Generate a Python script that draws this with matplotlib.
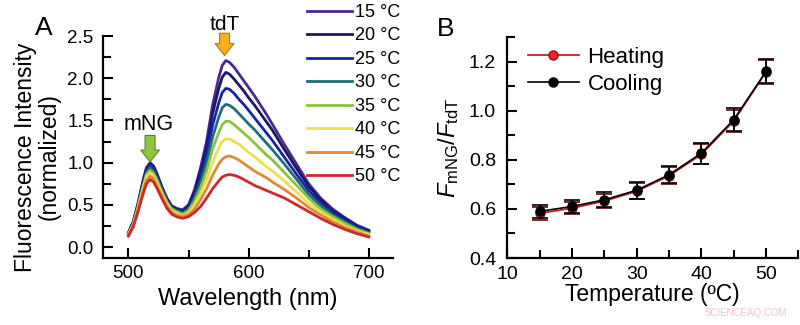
"""Temperature response of the mNG/tdT ratiometric sensor.

Panel A: normalized emission spectra recorded from 15 to 50 degC.
Panel B: mNG/tdT intensity ratio versus temperature for heating and cooling runs.
"""

import matplotlib

matplotlib.use("Agg")

import matplotlib.pyplot as plt  # noqa: E402
from matplotlib.ticker import MultipleLocator  # noqa: E402

plt.rcParams["font.family"] = ["Liberation Sans", "DejaVu Sans"]
plt.rcParams["mathtext.fontset"] = "custom"
plt.rcParams["mathtext.rm"] = "Liberation Sans"
plt.rcParams["mathtext.it"] = "Liberation Sans:italic"

OUT_PNG = "out.png"

# ---- panel A: emission spectra -------------------------------------------
wavelength_nm = [500, 504, 508, 512, 515, 518, 521, 524, 528, 532, 536, 540,
                 545, 550, 555, 560, 565, 570, 575, 578, 581, 584, 588, 592,
                 596, 600, 605, 610, 615, 620, 630, 640, 650, 660, 670, 680,
                 690, 700]

spec_15 = [0.17, 0.30, 0.52, 0.78, 0.94, 1.00, 0.96, 0.86, 0.71, 0.58, 0.49, 0.46,
           0.44, 0.50, 0.68, 0.94, 1.25, 1.68, 2.00, 2.15, 2.21, 2.19, 2.13, 2.05,
           1.97, 1.89, 1.79, 1.68, 1.57, 1.45, 1.21, 0.98, 0.75, 0.58, 0.45, 0.35,
           0.26, 0.20]
spec_20 = [0.17, 0.30, 0.51, 0.77, 0.93, 0.99, 0.95, 0.85, 0.70, 0.57, 0.48, 0.45,
           0.43, 0.49, 0.65, 0.89, 1.18, 1.58, 1.87, 2.01, 2.07, 2.05, 1.99, 1.92,
           1.85, 1.77, 1.68, 1.58, 1.48, 1.38, 1.15, 0.93, 0.72, 0.56, 0.43, 0.34,
           0.25, 0.19]
spec_25 = [0.16, 0.29, 0.50, 0.75, 0.91, 0.97, 0.93, 0.83, 0.69, 0.56, 0.47, 0.44,
           0.42, 0.47, 0.61, 0.83, 1.09, 1.44, 1.70, 1.83, 1.88, 1.87, 1.82, 1.75,
           1.69, 1.62, 1.53, 1.44, 1.35, 1.26, 1.06, 0.86, 0.67, 0.52, 0.41, 0.32,
           0.24, 0.18]
spec_30 = [0.16, 0.28, 0.49, 0.73, 0.88, 0.94, 0.90, 0.81, 0.67, 0.55, 0.46, 0.43,
           0.40, 0.45, 0.58, 0.76, 0.99, 1.30, 1.53, 1.65, 1.69, 1.68, 1.64, 1.58,
           1.52, 1.46, 1.39, 1.31, 1.23, 1.15, 0.98, 0.80, 0.62, 0.49, 0.38, 0.30,
           0.22, 0.17]
spec_35 = [0.15, 0.27, 0.47, 0.71, 0.86, 0.91, 0.87, 0.78, 0.65, 0.53, 0.45, 0.42,
           0.39, 0.43, 0.54, 0.70, 0.90, 1.16, 1.35, 1.45, 1.49, 1.49, 1.45, 1.40,
           1.35, 1.30, 1.23, 1.16, 1.09, 1.03, 0.88, 0.73, 0.58, 0.45, 0.36, 0.28,
           0.21, 0.16]
spec_40 = [0.15, 0.26, 0.46, 0.69, 0.83, 0.88, 0.84, 0.76, 0.62, 0.51, 0.43, 0.40,
           0.37, 0.40, 0.50, 0.63, 0.79, 1.00, 1.17, 1.25, 1.28, 1.28, 1.25, 1.22,
           1.17, 1.12, 1.07, 1.01, 0.95, 0.90, 0.78, 0.65, 0.52, 0.42, 0.33, 0.25,
           0.19, 0.15]
spec_45 = [0.14, 0.25, 0.44, 0.66, 0.79, 0.84, 0.81, 0.72, 0.60, 0.49, 0.41, 0.38,
           0.36, 0.38, 0.45, 0.56, 0.69, 0.85, 0.98, 1.04, 1.07, 1.08, 1.06, 1.03,
           0.99, 0.95, 0.90, 0.86, 0.82, 0.77, 0.68, 0.58, 0.47, 0.38, 0.30, 0.23,
           0.18, 0.13]
spec_50 = [0.13, 0.24, 0.42, 0.62, 0.75, 0.80, 0.77, 0.69, 0.57, 0.46, 0.39, 0.36,
           0.34, 0.36, 0.41, 0.48, 0.58, 0.69, 0.78, 0.83, 0.85, 0.86, 0.85, 0.83,
           0.80, 0.77, 0.73, 0.70, 0.67, 0.64, 0.58, 0.50, 0.42, 0.34, 0.27, 0.21,
           0.16, 0.12]

spectra = [spec_15, spec_20, spec_25, spec_30, spec_35, spec_40, spec_45, spec_50]
spectrum_labels = ["15 °C", "20 °C", "25 °C", "30 °C", "35 °C", "40 °C", "45 °C", "50 °C"]
spectrum_colors = ["#4a2a8c", "#1c1766", "#1a22a8", "#1f6e7c",
                   "#88c53c", "#ece04c", "#e2873a", "#cc2a2a"]

MNG_PEAK_NM, MNG_PEAK_VAL = 518, 1.01
TDT_PEAK_NM, TDT_PEAK_VAL = 580, 2.27

# ---- panel B: ratio vs temperature ---------------------------------------
temperature_c = [15, 20, 25, 30, 35, 40, 45, 50]
ratio_heating = [0.582, 0.603, 0.632, 0.672, 0.735, 0.822, 0.958, 1.158]
err_heating = [0.026, 0.025, 0.030, 0.033, 0.034, 0.041, 0.046, 0.048]
ratio_cooling = [0.590, 0.610, 0.637, 0.676, 0.739, 0.827, 0.963, 1.160]
err_cooling = [0.027, 0.025, 0.030, 0.034, 0.035, 0.042, 0.047, 0.049]


def style_axes(ax, tick_size):
    for side in ("top", "right"):
        ax.spines[side].set_visible(False)
    for side in ("left", "bottom"):
        ax.spines[side].set_linewidth(1.6)
    ax.tick_params(which="both", direction="in", width=1.5, labelsize=tick_size)
    ax.tick_params(which="major", length=7)
    ax.tick_params(which="minor", length=5.5)


def block_arrow(ax, x, y, face, edge, length_pt):
    ax.annotate(
        "", xy=(x, y), xycoords="data",
        xytext=(0, length_pt), textcoords="offset points",
        arrowprops=dict(
            arrowstyle="simple,head_length=0.85,head_width=1.35,tail_width=0.72",
            mutation_scale=10, fc=face, ec=edge, lw=0.8, shrinkA=0, shrinkB=0,
        ),
        annotation_clip=False,
    )


fig = plt.figure(figsize=(8, 3.25), dpi=100)
ax_a = fig.add_axes([0.129, 0.206, 0.362, 0.683])
ax_b = fig.add_axes([0.634, 0.206, 0.364, 0.680])

# panel A
for vals, lab, col in zip(spectra, spectrum_labels, spectrum_colors):
    ax_a.plot(wavelength_nm, vals, color=col, lw=2.0, label=lab)

ax_a.set_xlim(479, 720)
ax_a.set_ylim(-0.13, 2.5)
ax_a.xaxis.set_major_locator(MultipleLocator(100))
ax_a.xaxis.set_minor_locator(MultipleLocator(50))
ax_a.yaxis.set_major_locator(MultipleLocator(0.5))
ax_a.yaxis.set_minor_locator(MultipleLocator(0.25))
ax_a.yaxis.set_major_formatter(lambda v, p: f"{v:.1f}")
style_axes(ax_a, 13.5)
ax_a.tick_params(axis="x", pad=5)
ax_a.tick_params(axis="y", pad=7)
ax_a.set_xlabel("Wavelength (nm)", fontsize=17, labelpad=4)
ax_a.set_ylabel("Fluorescence Intensity\n(normalized)", fontsize=16.5, linespacing=1.0)
ax_a.yaxis.set_label_coords(-0.148, 0.455)

block_arrow(ax_a, MNG_PEAK_NM, MNG_PEAK_VAL, "#8cc63f", "#5b8a25", 19)
ax_a.text(MNG_PEAK_NM - 1, MNG_PEAK_VAL + 0.44, "mNG", ha="center", va="center", fontsize=15.5)
block_arrow(ax_a, TDT_PEAK_NM, TDT_PEAK_VAL, "#f6b21e", "#b07810", 16)
ax_a.text(TDT_PEAK_NM, TDT_PEAK_VAL + 0.37, "tdT", ha="center", va="center",
          fontsize=15, clip_on=False)

ax_a.legend(
    loc="upper left", bbox_to_anchor=(0.703, 1.145), frameon=False,
    fontsize=13, handlelength=2.5, handletextpad=0.17, labelspacing=0.36,
    borderaxespad=0, borderpad=0,
)

# panel B
heat = ax_b.errorbar(temperature_c, ratio_heating, yerr=err_heating, color="#c42222",
                     ecolor="#6e1a1a", elinewidth=1.3, capsize=5.5, capthick=1.3,
                     lw=1.3, marker="o", ms=6.5, mfc="#ff2020", mec="#7a1a1a",
                     label="Heating", zorder=2)
cool = ax_b.errorbar(temperature_c, ratio_cooling, yerr=err_cooling, color="black",
                     ecolor="black", elinewidth=1.2, capsize=5.5, capthick=1.2,
                     lw=1.2, marker="o", ms=6.5, mfc="black", mec="black",
                     label="Cooling", zorder=3)

ax_b.set_xlim(10, 55)
ax_b.set_ylim(0.4, 1.3)
ax_b.xaxis.set_major_locator(MultipleLocator(10))
ax_b.xaxis.set_minor_locator(MultipleLocator(5))
ax_b.yaxis.set_major_locator(MultipleLocator(0.2))
ax_b.yaxis.set_minor_locator(MultipleLocator(0.1))
ax_b.yaxis.set_major_formatter(lambda v, p: f"{v:.1f}")
style_axes(ax_b, 14)
ax_b.tick_params(axis="x", pad=6)
ax_b.tick_params(axis="y", pad=8)
ax_b.set_xlabel("Temperature (ºC)", fontsize=16.5, labelpad=0)
ax_b.set_ylabel(r"$\mathit{F}_{\mathrm{mNG}}/\mathit{F}_{\mathrm{tdT}}$", fontsize=17)
ax_b.yaxis.set_label_coords(-0.16, 0.5)

ax_b.legend(
    handles=[heat[0], cool[0]], labels=["Heating", "Cooling"],
    loc="upper left", bbox_to_anchor=(0.072, 0.955), frameon=False,
    fontsize=16, handlelength=2.27, handletextpad=0.4, labelspacing=0.25,
    borderaxespad=0, borderpad=0,
)

fig.text(0.055, 0.915, "A", fontsize=19, ha="center", va="center")
fig.text(0.557, 0.912, "B", fontsize=19, ha="center", va="center")
fig.text(0.932, 0.037, "SCIENCEAQ.COM", fontsize=7, color="#f2c4c4",
         ha="center", va="center")

fig.savefig(OUT_PNG, dpi=100)
plt.close(fig)
